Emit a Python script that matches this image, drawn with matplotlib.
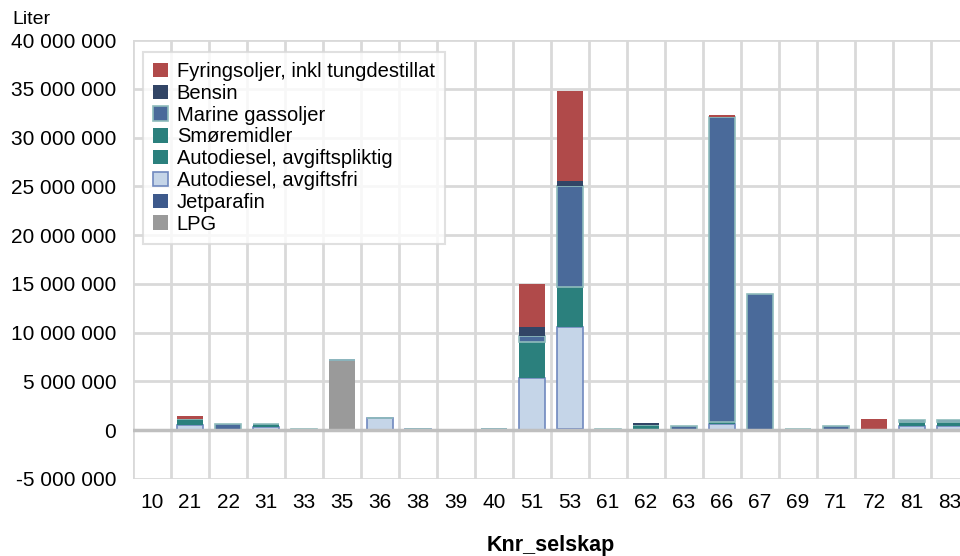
import matplotlib
matplotlib.use("Agg")
import matplotlib.pyplot as plt
from matplotlib.patches import Patch
from matplotlib.ticker import FuncFormatter, MultipleLocator
import numpy as np

plt.rcParams['font.family'] = ['Liberation Sans', 'DejaVu Sans']

categories = ["10", "21", "22", "31", "33", "35", "36", "38", "39", "40", "51",
              "53", "61", "62", "63", "66", "67", "69", "71", "72", "81", "83"]

# stacking order bottom -> top
lpg          = [0, 0, 0, 0, 0, 7.23e6, 0, 0, 0, 0.1e6, 0, 0.15e6, 0, 0, 0, 0, 0, 0, 0, 0, 0, 0]
jetparafin   = [0] * 22
autod_fri    = [0, 0.56e6, 0, 0.35e6, 0, 0, 1.25e6, 0.1e6, 0, 0, 5.35e6, 10.43e6, 0, 0.05e6, 0, 0.63e6, 0, 0, 0, 0, 0.39e6, 0.4e6]
autod_plikt  = [0, 0.59e6, 0, 0.32e6, 0, 0, 0, 0, 0, 0, 3.65e6, 4.11e6, 0, 0.5e6, 0, 0.17e6, 0, 0.08e6, 0, 0, 0.41e6, 0.4e6]
smoremidler  = [0] * 22
marine       = [0, 0, 0.63e6, 0, 0.15e6, 0, 0, 0, 0, 0, 0.62e6, 10.31e6, 0.08e6, 0, 0.42e6, 31.3e6, 13.93e6, 0, 0.42e6, 0, 0.2e6, 0.2e6]
bensin       = [0, 0, 0, 0, 0, 0, 0, 0, 0, 0, 0.96e6, 0.59e6, 0, 0.2e6, 0, 0, 0, 0, 0, 0, 0, 0]
fyringsoljer = [0, 0.34e6, 0, 0, 0, 0, 0, 0, 0, 0, 4.45e6, 9.23e6, 0, 0, 0, 0.26e6, 0, 0, 0, 1.18e6, 0, 0]

series = [
    ("LPG", lpg, "#9a9a9a", None),
    ("Jetparafin", jetparafin, "#3e5a8c", None),
    ("Autodiesel, avgiftsfri", autod_fri, "#c5d5e8", "#7089bf"),
    ("Autodiesel, avgiftspliktig", autod_plikt, "#2b807d", None),
    ("Smøremidler", smoremidler, "#2b807d", None),
    ("Marine gassoljer", marine, "#4a6a9a", "#8fbcbc"),
    ("Bensin", bensin, "#324566", None),
    ("Fyringsoljer, inkl tungdestillat", fyringsoljer, "#b04a4a", None),
]

fig = plt.figure(figsize=(9.6, 5.56), dpi=100)
ax = fig.add_axes([133 / 960, 1 - 479 / 556, 836 / 960, 439 / 556])

x = np.arange(len(categories))
bottom = np.zeros(len(categories))
handles = []
for name, vals, color, edge in series:
    v = np.array(vals, dtype=float)
    ax.bar(x, v, width=0.68, bottom=bottom, color=color,
           edgecolor=edge if edge else color, linewidth=1.2 if edge else 0,
           zorder=2)
    bottom += v
    handles.append(Patch(facecolor=color, edgecolor=edge if edge else color,
                         linewidth=1.2 if edge else 0, label=name))

ax.set_xlim(-0.5, len(categories) - 0.5)
ax.set_ylim(-5e6, 40e6)
ax.yaxis.set_major_locator(MultipleLocator(5e6))
ax.yaxis.set_major_formatter(FuncFormatter(lambda v, p: f"{int(round(v)):,}".replace(",", " ")))
ax.set_xticks(x)
ax.set_xticklabels(categories)

# grid
for b in np.arange(-0.5, len(categories) + 0.5, 1):
    ax.axvline(b, color="#d9d9d9", lw=2.0, zorder=0)
for yv in np.arange(-5e6, 40.1e6, 5e6):
    ax.axhline(yv, color="#d9d9d9", lw=2.0, zorder=0)
ax.axhline(0, color="#bfbfbf", lw=2.5, zorder=3)

for s in ax.spines.values():
    s.set_visible(False)
ax.tick_params(axis="both", length=0, labelsize=15, colors="black")
ax.tick_params(axis="y", pad=12)
ax.tick_params(axis="x", pad=10)

fig.text(551 / 960, 1 - 545 / 556, "Knr_selskap", fontsize=15.5, fontweight="bold",
         ha="center", va="center")
fig.text(12 / 960, 1 - 19 / 556, "Liter", fontsize=14, va="center", ha="left")

leg = ax.legend(handles=handles[::-1], loc="upper left",
                bbox_to_anchor=(0.012, 0.973), borderaxespad=0,
                fontsize=14.5, frameon=True, fancybox=False,
                handlelength=0.72, handleheight=0.72, handletextpad=0.45,
                labelspacing=0.14, borderpad=0.5)
leg.get_frame().set_edgecolor("#d9d9d9")
leg.get_frame().set_linewidth(1.5)
leg.set_zorder(5)

fig.savefig("out.png", dpi=100)
